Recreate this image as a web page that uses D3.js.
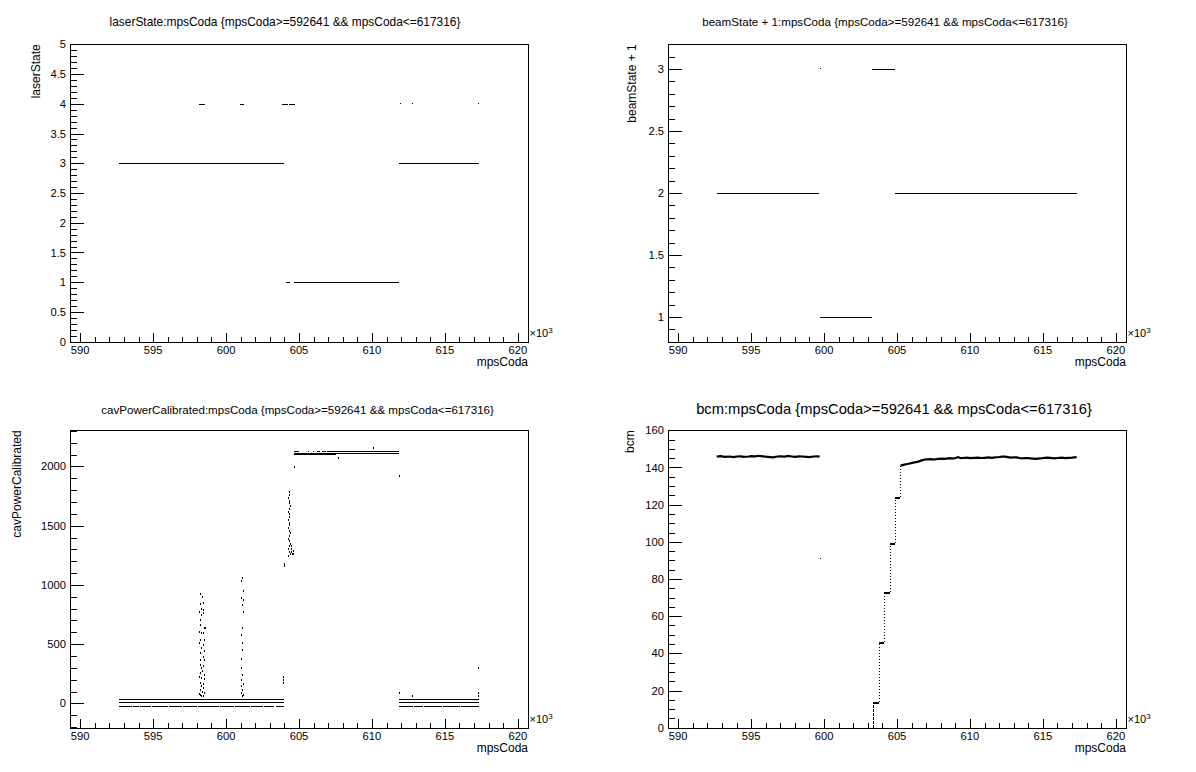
<!DOCTYPE html>
<html><head><meta charset="utf-8">
<script src="https://cdn.jsdelivr.net/npm/d3@7"></script>
<style>
body{margin:0;background:#fff}
svg{display:block;background:#fff}
text{font-family:"Liberation Sans",Arial,Helvetica,sans-serif;fill:#000}
</style>
</head><body>
<svg id="c" width="1196" height="772"></svg>
<script>
// ---------------- shared axis data ----------------
const xDomain = [589.3, 620.7];
const xTickValues = [590, 595, 600, 605, 610, 615, 620];
const xTickLabels = ["590", "595", "600", "605", "610", "615", "620"];
const xTitle = "mpsCoda";

// ---------------- panel 1: laserState ----------------
const laserTitle = "laserState:mpsCoda {mpsCoda>=592641 && mpsCoda<=617316}";
const laserYDomain = [0, 5];
const laserYTicks = [0, 0.5, 1, 1.5, 2, 2.5, 3, 3.5, 4, 4.5, 5];
const laserYLabels = ["0", "0.5", "1", "1.5", "2", "2.5", "3", "3.5", "4", "4.5", "5"];
// runs of dense points: [start, end, value]
const laserRuns = [
  [592.641, 603.95, 3], [611.85, 617.316, 3],
  [604.09, 604.41, 1], [604.64, 611.87, 1],
  [598.12, 598.58, 4], [600.98, 601.21, 4], [603.84, 604.23, 4], [604.30, 604.71, 4]
];
const laserDots = [[611.91, 4], [612.72, 4], [617.30, 4]];

// ---------------- panel 2: beamState + 1 ----------------
const beamTitle = "beamState + 1:mpsCoda {mpsCoda>=592641 && mpsCoda<=617316}";
const beamYDomain = [0.8, 3.2];
const beamYTicks = [1, 1.5, 2, 2.5, 3];
const beamYLabels = ["1", "1.5", "2", "2.5", "3"];
const beamRuns = [
  [592.641, 599.68, 2], [599.75, 603.32, 1], [603.31, 604.88, 3], [604.83, 617.316, 2]
];
const beamDots = [[599.75, 3]];

// ---------------- panel 3: cavPowerCalibrated ----------------
const cavTitle = "cavPowerCalibrated:mpsCoda {mpsCoda>=592641 && mpsCoda<=617316}";
const cavYDomain = [-205, 2305];
const cavYTicks = [0, 500, 1000, 1500, 2000];
const cavYLabels = ["0", "500", "1000", "1500", "2000"];
const cavRuns = [
  [592.641, 603.95, 35], [592.641, 603.95, 8],
  [611.85, 617.316, 35], [611.85, 617.316, 8],
  [604.64, 605.01, 2130], [605.64, 605.68, 2130], [605.96, 606.0, 2130],
  [606.25, 606.45, 2130], [606.55, 606.85, 2130], [606.89, 611.89, 2130],
  [604.64, 611.89, 2116], [604.64, 607.57, 2102]
];
const cavDashRuns = [
  [592.64, 593.52, -20], [593.6, 594.05, -20], [594.12, 594.85, -20], [594.92, 596.0, -20],
  [596.08, 597.0, -20], [597.07, 598.02, -20], [598.1, 599.52, -20], [599.6, 600.52, -20],
  [600.6, 601.62, -20], [601.7, 602.52, -20], [602.6, 603.32, -20], [603.4, 603.95, -20],
  [611.88, 612.82, -20], [612.9, 613.52, -20], [613.6, 614.82, -20], [614.9, 616.02, -20],
  [616.1, 617.316, -20]
];
const cavDots = [
  // burst near 598.3
  [598.24, 920], [598.34, 901], [598.21, 839], [598.39, 845], [598.26, 794], [598.39, 788],
  [598.13, 774], [598.42, 766], [598.26, 746], [598.18, 704], [598.21, 662], [598.47, 634],
  [598.57, 634], [598.16, 605], [598.31, 597], [598.44, 597], [598.24, 535], [598.50, 535],
  [598.16, 507], [598.42, 493], [598.31, 465], [598.50, 445], [598.21, 423], [598.39, 394],
  [598.24, 366], [598.47, 366], [598.18, 324], [598.42, 316], [598.26, 296], [598.36, 273],
  [598.21, 254], [598.47, 240], [598.16, 226], [598.31, 212], [598.50, 203], [598.21, 175],
  [598.39, 164], [598.29, 147], [598.44, 127], [598.18, 113], [598.34, 99], [598.47, 85],
  [598.24, 71], [598.39, 62], [598.29, 62], [598.16, 78],
  // burst near 601.1
  [601.08, 1055], [601.00, 1036], [601.13, 951], [601.03, 887], [601.13, 873], [601.08, 830],
  [601.13, 774], [601.10, 634], [601.05, 577], [601.10, 507], [601.08, 451], [601.05, 375],
  [601.00, 296], [601.08, 240], [601.03, 197], [601.13, 164], [601.05, 147], [601.10, 113],
  [601.03, 85], [601.08, 62], [601.13, 70],
  // near 603.9
  [603.88, 220], [603.88, 197], [603.88, 169], [603.96, 1176], [603.96, 1160],
  // ramp-up column near 604.3
  [604.30, 1782], [604.33, 1755], [604.28, 1731], [604.32, 1712], [604.30, 1688],
  [604.35, 1664], [604.30, 1641], [604.27, 1618], [604.33, 1596], [604.31, 1571],
  [604.28, 1549], [604.34, 1526], [604.30, 1503], [604.27, 1481], [604.33, 1458],
  [604.36, 1436], [604.30, 1414], [604.27, 1391], [604.33, 1368], [604.36, 1347],
  [604.30, 1325], [604.27, 1302], [604.33, 1281], [604.38, 1262], [604.22, 1240],
  [604.45, 1332], [604.48, 1305], [604.43, 1281], [604.49, 1262], [604.56, 1290], [604.58, 1262],
  [604.64, 1993],
  // high plateau stragglers
  [607.70, 2074], [610.10, 2153], [611.89, 1919],
  // right block
  [611.89, 91], [612.72, 62], [617.30, 296], [617.30, 91], [617.30, 62]
];

// ---------------- panel 4: bcm ----------------
const bcmTitle = "bcm:mpsCoda {mpsCoda>=592641 && mpsCoda<=617316}";
const bcmYDomain = [0, 160];
const bcmYTicks = [0, 20, 40, 60, 80, 100, 120, 140, 160];
const bcmYLabels = ["0", "20", "40", "60", "80", "100", "120", "140", "160"];
const bcmBandLeft = [
  [592.641, 145.8], [592.9, 146.1], [593.2, 145.7], [593.5, 145.9], [593.8, 145.6],
  [594.0, 145.9], [594.3, 146.0], [594.5, 145.7], [594.8, 145.9], [595.0, 146.1],
  [595.3, 146.0], [595.5, 146.3], [595.8, 146.0], [596.0, 145.8], [596.3, 145.6],
  [596.5, 145.4], [596.8, 145.9], [597.0, 146.0], [597.3, 145.8], [597.5, 146.2],
  [597.8, 145.9], [598.0, 145.7], [598.3, 146.0], [598.5, 145.9], [598.8, 145.7],
  [599.0, 145.6], [599.3, 145.9], [599.5, 146.0], [599.7, 145.9]
];
const bcmBandRight = [
  [605.24, 141.0], [605.5, 141.5], [605.8, 142.0], [606.1, 142.6], [606.4, 143.0],
  [606.7, 143.8], [606.9, 144.3], [607.3, 144.5], [607.6, 144.3], [607.8, 144.6],
  [608.1, 144.8], [608.3, 144.6], [608.6, 145.0], [608.8, 144.8], [609.0, 145.1],
  [609.2, 145.6], [609.35, 145.0], [609.5, 145.1], [609.8, 145.3], [610.0, 145.0],
  [610.3, 145.2], [610.5, 145.3], [610.8, 145.1], [611.0, 145.2], [611.3, 145.4],
  [611.5, 145.2], [611.8, 145.5], [612.0, 145.6], [612.2, 145.9], [612.4, 145.8],
  [612.6, 145.6], [612.8, 145.3], [613.0, 145.5], [613.2, 145.4], [613.4, 145.1],
  [613.6, 144.9], [613.8, 145.1], [614.0, 145.0], [614.3, 144.8], [614.5, 144.6],
  [614.8, 144.9], [615.0, 145.0], [615.3, 145.3], [615.5, 145.2], [615.8, 144.9],
  [616.0, 145.1], [616.3, 145.3], [616.5, 145.0], [616.8, 145.2], [617.0, 145.3],
  [617.316, 145.6]
];
const bcmSteps = [
  [603.34, 603.80, 13.7], [603.80, 604.14, 46.3], [604.14, 604.50, 73.2],
  [604.50, 604.89, 99.2], [604.89, 605.23, 124.3]
];
// vertical transitions: [x, from, to]
const bcmRises = [
  [603.80, 13.7, 46.3], [604.14, 46.3, 73.2], [604.50, 73.2, 99.2],
  [604.89, 99.2, 124.3], [605.23, 124.3, 141.0]
];
const bcmFirstRise = [[603.34, 0, 13.7]];
const bcmDots = [[599.75, 91]];

// ---------------- layout ----------------
const PW = 598, PH = 386;
const FL = 70, FR = 528, FT = 44.3, FB = 341.7;

const svg = d3.select("#c");
svg.append("rect").attr("width", 1196).attr("height", 772).attr("fill", "#fff");

function hline(g, x, y, run, w) {
  g.append("line")
    .attr("x1", x(run[0])).attr("x2", Math.max(x(run[1]), x(run[0]) + 1))
    .attr("y1", Math.round(y(run[2])) + 0.5).attr("y2", Math.round(y(run[2])) + 0.5)
    .attr("stroke", "#000").attr("stroke-width", w || 1);
}
function dot(g, x, y, p, w, h) {
  g.append("rect")
    .attr("x", Math.round(x(p[0]))).attr("y", Math.round(y(p[1])) - 1)
    .attr("width", w || 1).attr("height", h || 1).attr("fill", "#000");
}

function panel(col, row, cfg) {
  const g = svg.append("g").attr("transform", `translate(${col * PW},${row * PH})`);
  const x = d3.scaleLinear().domain(xDomain).range([FL, FR]);
  const y = d3.scaleLinear().domain(cfg.yDomain).range([FB, FT]);
  const ax = g.append("g").attr("stroke", "#000").attr("stroke-width", 1).attr("shape-rendering", "crispEdges");

  // x ticks
  const xMinor = d3.range(590, 621, 1).filter(v => v >= xDomain[0] && v <= xDomain[1]);
  xMinor.forEach(v => {
    const major = xTickValues.includes(v);
    ax.append("line").attr("x1", Math.round(x(v)) + 0.5).attr("x2", Math.round(x(v)) + 0.5)
      .attr("y1", FB).attr("y2", FB - (major ? 9 : 4.5));
  });
  // y ticks
  cfg.yMinor.forEach(v => {
    const major = cfg.yTicks.some(t => Math.abs(t - v) < 1e-6);
    const yy = Math.round(y(v)) + 0.5;
    ax.append("line").attr("x1", FL).attr("x2", FL + (major ? 13.7 : 6.9))
      .attr("y1", yy).attr("y2", yy);
  });
  // frame
  ax.append("rect").attr("x", FL + 0.5).attr("y", Math.round(FT) + 0.5)
    .attr("width", FR - FL).attr("height", Math.round(FB) - Math.round(FT))
    .attr("fill", "none");

  // labels
  xTickValues.forEach((v, i) => {
    g.append("text").attr("x", x(v)).attr("y", FB + 12.3)
      .attr("text-anchor", "middle").attr("font-size", 11.2).text(xTickLabels[i]);
  });
  cfg.yTicks.forEach((v, i) => {
    g.append("text").attr("x", FL - 4).attr("y", y(v)).attr("dy", "0.36em")
      .attr("text-anchor", "end").attr("font-size", 11.2).text(cfg.yLabels[i]);
  });
  // x10^3
  const e = g.append("text").attr("x", FR + 1.5).attr("y", FB - 4.5).attr("font-size", 11);
  e.append("tspan").text("\u00d710");
  e.append("tspan").attr("dy", -4.5).attr("font-size", 8).text("3");
  // axis titles
  g.append("text").attr("x", FR).attr("y", FB + 24.5).attr("text-anchor", "end")
    .attr("font-size", 12).text(xTitle);
  g.append("text").attr("transform", `translate(${cfg.yTitleX},${FT}) rotate(-90)`)
    .attr("text-anchor", "end").attr("font-size", 12).text(cfg.yTitle);
  // main title, fitted to width seen in reference
  const t = g.append("text").attr("x", cfg.titleX).attr("y", cfg.titleY)
    .attr("text-anchor", "middle").attr("font-size", 12).text(cfg.title);
  const L = t.node().getComputedTextLength();
  t.attr("font-size", 12 * cfg.titleW / L);

  const m = g.append("g").attr("shape-rendering", "crispEdges");
  cfg.draw(m, x, y);
}

panel(0, 0, {
  title: laserTitle, titleX: 285, titleY: 26, titleW: 351,
  yTitle: "laserState", yTitleX: 39.5,
  yDomain: laserYDomain, yTicks: laserYTicks, yLabels: laserYLabels,
  yMinor: d3.range(0, 51).map(i => i / 10),
  draw(m, x, y) {
    laserRuns.forEach(r => hline(m, x, y, r));
    laserDots.forEach(p => dot(m, x, y, p, 1, 1));
  }
});

panel(1, 0, {
  title: beamTitle, titleX: 287, titleY: 26, titleW: 366,
  yTitle: "beamState + 1", yTitleX: 38,
  yDomain: beamYDomain, yTicks: beamYTicks, yLabels: beamYLabels,
  yMinor: d3.range(8, 33).map(i => i / 10),
  draw(m, x, y) {
    beamRuns.forEach(r => hline(m, x, y, r));
    beamDots.forEach(p => dot(m, x, y, p, 1, 1));
  }
});

panel(0, 1, {
  title: cavTitle, titleX: 297.6, titleY: 27.5, titleW: 393,
  yTitle: "cavPowerCalibrated", yTitleX: 20.5,
  yDomain: cavYDomain, yTicks: cavYTicks, yLabels: cavYLabels,
  yMinor: d3.range(-200, 2301, 100),
  draw(m, x, y) {
    cavRuns.forEach(r => hline(m, x, y, r));
    cavDashRuns.forEach(r => hline(m, x, y, r));
    cavDots.forEach(p => dot(m, x, y, p, 1, 2));
  }
});

panel(1, 1, {
  title: bcmTitle, titleX: 296, titleY: 27.5, titleW: 396,
  yTitle: "bcm", yTitleX: 35.5,
  yDomain: bcmYDomain, yTicks: bcmYTicks, yLabels: bcmYLabels,
  yMinor: d3.range(0, 161, 5),
  draw(m, x, y) {
    const line = d3.line().x(d => x(d[0])).y(d => y(d[1]));
    [bcmBandLeft, bcmBandRight].forEach(b => {
      m.append("path").attr("d", line(b)).attr("fill", "none")
        .attr("stroke", "#000").attr("stroke-width", 2.2).attr("shape-rendering", "auto");
    });
    bcmSteps.forEach(r => hline(m, x, y, r, 2));
    bcmRises.forEach(r => {
      m.append("line").attr("x1", Math.round(x(r[0])) + 0.5).attr("x2", Math.round(x(r[0])) + 0.5)
        .attr("y1", y(r[1])).attr("y2", y(r[2]))
        .attr("stroke", "#000").attr("stroke-width", 1).attr("stroke-dasharray", "1,2");
    });
    bcmFirstRise.forEach(r => {
      m.append("line").attr("x1", Math.round(x(r[0])) + 0.5).attr("x2", Math.round(x(r[0])) + 0.5)
        .attr("y1", y(r[1])).attr("y2", y(r[2]))
        .attr("stroke", "#000").attr("stroke-width", 1).attr("stroke-dasharray", "3,1");
    });
    bcmDots.forEach(p => dot(m, x, y, p, 1, 1));
  }
});
</script>
</body></html>
